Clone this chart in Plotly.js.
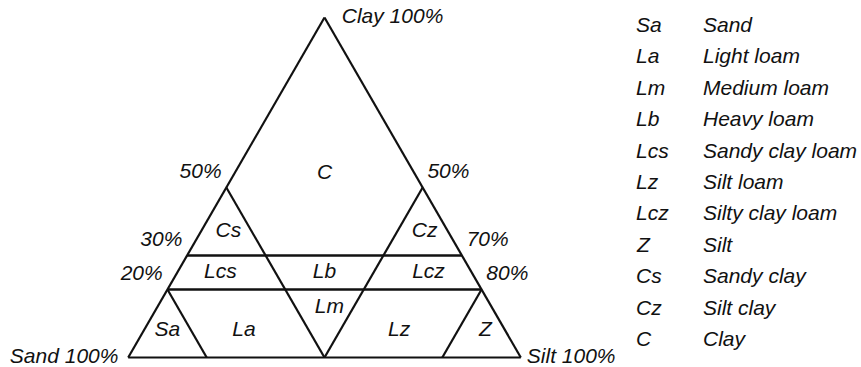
<!DOCTYPE html>
<html><head><meta charset="utf-8">
<script src="https://cdn.plot.ly/plotly-3.0.1.min.js"></script>
<style>html,body{margin:0;padding:0;background:#fff;}#chart{width:861px;height:367px;}</style>
</head><body><div id="chart"></div>
<script>
// Class boundary segments, each [start, end], in percent (clay, sand, silt)
const boundaryClay = [[30, 30], [20, 20], [50, 0], [50, 0], [20, 0], [20, 0]];
const boundarySand = [[70, 0], [80, 0], [50, 50], [0, 50], [80, 80], [0, 20]];
const boundarySilt = [[0, 70], [0, 80], [0, 50], [50, 50], [0, 20], [80, 80]];
const boundaryWidth = [2.6, 2.6, 2.2, 2.2, 2.2, 2.2];

// Region labels inside the triangle
const regionLabels = ['C', 'Cs', 'Cz', 'Lcs', 'Lb', 'Lcz', 'Lm', 'Sa', 'La', 'Lz', 'Z'];
const regionClay = [54, 37, 37, 25, 25, 25, 14.5, 8, 8, 8, 8];
const regionSand = [23, 56, 6, 64, 37.5, 11, 41.5, 86, 66.5, 27, 5];
const regionSilt = [23, 7, 57, 11, 37.5, 64, 44, 6, 25.5, 65, 87];

// Edge tick labels
const leftTickLabels = ['50%', '30%', '20%'];
const leftTickClay = [50, 30, 20];
const leftTickSand = [50, 70, 80];
const rightTickLabels = ['50%', '70%', '80%'];
const rightTickClay = [50, 30, 20];
const rightTickSilt = [50, 70, 80];

// Vertex labels
const vertexLabels = ['Clay 100%', 'Sand 100%', 'Silt 100%'];
const vertexClay = [100, 0, 0];
const vertexSand = [0, 100, 0];
const vertexSilt = [0, 0, 100];

// Key
const keyCodes = ['Sa', 'La', 'Lm', 'Lb', 'Lcs', 'Lz', 'Lcz', 'Z', 'Cs', 'Cz', 'C'];
const keyNames = ['Sand', 'Light loam', 'Medium loam', 'Heavy loam', 'Sandy clay loam',
  'Silt loam', 'Silty clay loam', 'Silt', 'Sandy clay', 'Silt clay', 'Clay'];

const FONT = {family: '"Liberation Sans", Arial, sans-serif', size: 21, color: '#111', style: 'italic'};
const W = 861, H = 367;
const CLEAR = 'rgba(0,0,0,0)';

const traces = [];
boundaryClay.forEach((c, i) => {
  traces.push({
    type: 'scatterternary', mode: 'lines',
    a: c, b: boundarySand[i], c: boundarySilt[i],
    line: {color: '#111', width: boundaryWidth[i]},
    hoverinfo: 'skip', showlegend: false, cliponaxis: false
  });
});
traces.push({
  type: 'scatterternary', mode: 'text',
  a: regionClay, b: regionSand, c: regionSilt,
  text: regionLabels, textposition: 'middle center',
  textfont: FONT, hoverinfo: 'skip', showlegend: false, cliponaxis: false
});
traces.push({
  type: 'scatterternary', mode: 'markers+text',
  a: leftTickClay, b: leftTickSand, c: leftTickClay.map(() => 0),
  marker: {size: 6, color: CLEAR},
  text: leftTickLabels, textposition: 'top left',
  textfont: FONT, hoverinfo: 'skip', showlegend: false, cliponaxis: false
});
traces.push({
  type: 'scatterternary', mode: 'markers+text',
  a: rightTickClay, b: rightTickClay.map(() => 0), c: rightTickSilt,
  marker: {size: 6, color: CLEAR},
  text: rightTickLabels, textposition: 'top right',
  textfont: FONT, hoverinfo: 'skip', showlegend: false, cliponaxis: false
});
traces.push({
  type: 'scatterternary', mode: 'markers+text',
  a: vertexClay, b: vertexSand, c: vertexSilt,
  marker: {size: [26, 14, 8], color: CLEAR},
  text: vertexLabels, textposition: ['middle right', 'middle left', 'middle right'],
  textfont: FONT, hoverinfo: 'skip', showlegend: false, cliponaxis: false
});

const axisStyle = {
  showgrid: false, showticklabels: false, ticks: '', showline: true,
  linecolor: '#111', linewidth: 2.2, title: {text: ''}
};

const annotations = [];
keyCodes.forEach((code, i) => {
  const ypx = 24.5 + i * 31.4;
  annotations.push({
    xref: 'paper', yref: 'paper', x: 634 / W, y: 1 - ypx / H,
    xanchor: 'left', yanchor: 'middle', showarrow: false,
    text: code, font: FONT
  });
  annotations.push({
    xref: 'paper', yref: 'paper', x: 701 / W, y: 1 - ypx / H,
    xanchor: 'left', yanchor: 'middle', showarrow: false,
    text: keyNames[i], font: FONT
  });
});

const layout = {
  width: W, height: H,
  margin: {l: 0, r: 0, t: 0, b: 0},
  paper_bgcolor: '#fff',
  showlegend: false,
  ternary: {
    sum: 100,
    domain: {x: [128 / W, 521 / W], y: [9.5 / H, 349.5 / H]},
    bgcolor: CLEAR,
    aaxis: axisStyle, baxis: axisStyle, caxis: axisStyle
  },
  annotations: annotations
};

Plotly.newPlot('chart', traces, layout, {staticPlot: true, displayModeBar: false});
</script>
</body></html>
